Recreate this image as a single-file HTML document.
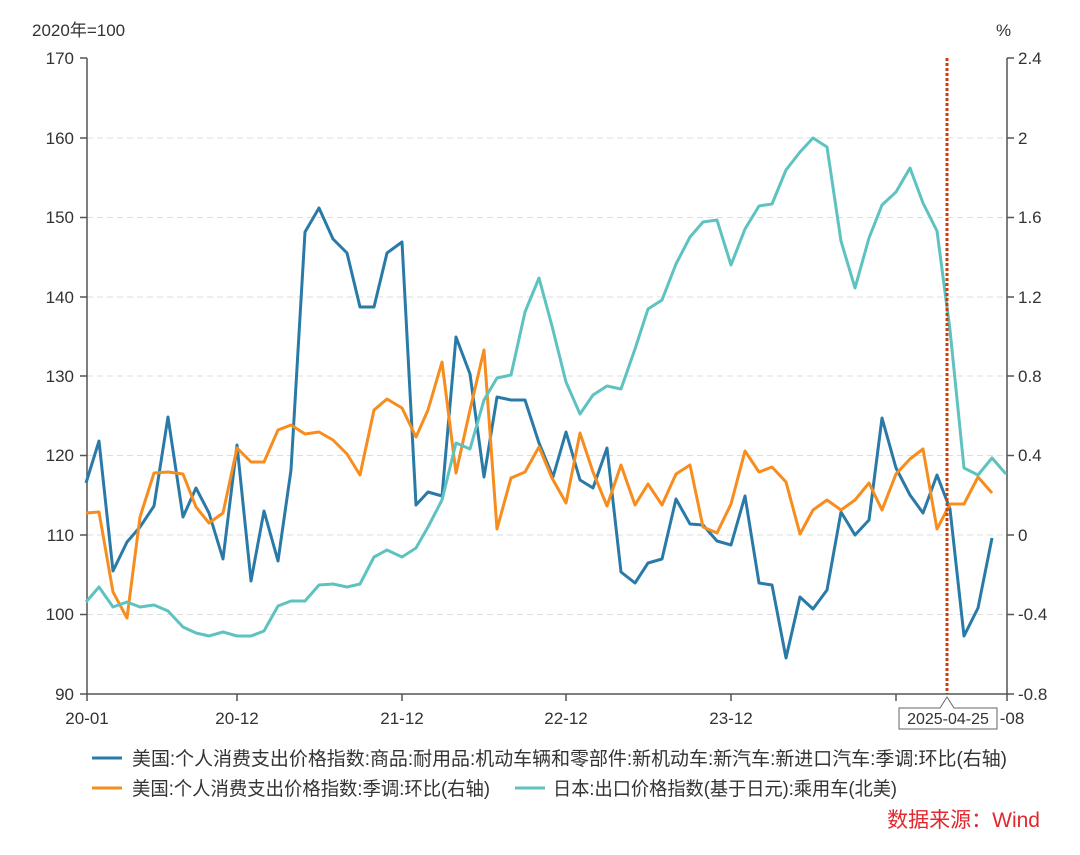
<!DOCTYPE html>
<html><head><meta charset="utf-8"><style>
body{margin:0;background:#fff;}
svg text{font-family:"Liberation Sans","Noto Sans CJK SC",sans-serif;}
</style></head><body>
<svg width="1080" height="850" xmlns="http://www.w3.org/2000/svg">
<rect width="1080" height="850" fill="#fff"/>
<g stroke="#ddd" stroke-dasharray="6,4" stroke-width="1">
<line x1="87" x2="1007" y1="138" y2="138"/><line x1="87" x2="1007" y1="217.5" y2="217.5"/>
<line x1="87" x2="1007" y1="297" y2="297"/><line x1="87" x2="1007" y1="376" y2="376"/>
<line x1="87" x2="1007" y1="455.5" y2="455.5"/><line x1="87" x2="1007" y1="535" y2="535"/>
<line x1="87" x2="1007" y1="614.5" y2="614.5"/>
</g>
<g stroke="#555" stroke-width="1.5" fill="none">
<line x1="87" y1="58" x2="87" y2="695"/><line x1="1007" y1="58" x2="1007" y2="695"/>
<line x1="87" y1="694" x2="1007" y2="694"/>
<path d="M80 58h7M80 138h7M80 217.5h7M80 297h7M80 376h7M80 455.5h7M80 535h7M80 614.5h7M80 694h7"/>
<path d="M1007 58h7M1007 138h7M1007 217.5h7M1007 297h7M1007 376h7M1007 455.5h7M1007 535h7M1007 614.5h7M1007 694h7"/>
<path d="M87 694v7M237 694v7M402 694v7M566 694v7M731 694v7M896 694v7M1007 694v7"/>
</g>
<g font-size="17" fill="#333" text-anchor="end">
<text x="74" y="64">170</text><text x="74" y="144">160</text><text x="74" y="223">150</text><text x="74" y="303">140</text><text x="74" y="382">130</text><text x="74" y="461">120</text><text x="74" y="541">110</text><text x="74" y="620">100</text><text x="74" y="700">90</text>
</g>
<g font-size="17" fill="#333">
<text x="1018" y="64">2.4</text><text x="1018" y="144">2</text><text x="1018" y="223">1.6</text><text x="1018" y="303">1.2</text><text x="1018" y="382">0.8</text><text x="1018" y="461">0.4</text><text x="1018" y="541">0</text><text x="1018" y="620">-0.4</text><text x="1018" y="700">-0.8</text>
<text x="32" y="36">2020年=100</text><text x="996" y="36">%</text>
</g>
<g font-size="17" fill="#333" text-anchor="middle">
<text x="87" y="724">20-01</text><text x="237" y="724">20-12</text><text x="402" y="724">21-12</text><text x="566" y="724">22-12</text><text x="731" y="724">23-12</text><text x="912" y="724">24-</text><text x="1012" y="724">-08</text>
</g>
<polyline fill="none" stroke="#2A7AA8" stroke-width="3" stroke-linejoin="round" points="86,483 99,441 113,571 127,542 140,527 154,506 168,417 183,517 196,488 209,513 223,559 237,445 251,581 264,511 278,561 291,470 305,232 319,208 333,239 347,253 360,307 374,307 387,253 402,242 416,505 428,492 442,496 456,337 470,374 484,477 497,397 511,400 525,400 539,443 553,477 566,432 580,480 593,488 607,448 621,572 635,583 648,563 662,559 676,499 690,524 703,525 717,541 731,545 745,496 759,583 772,585 786,658 800,597 813,609 827,590 841,512 855,535 869,520 882,418 896,468 910,495 923,513 937,475 950,509 964,636 978,608 992,538"/>
<polyline fill="none" stroke="#F78D1E" stroke-width="3" stroke-linejoin="round" points="86,513 99,512 113,592 127,618 140,517 154,473 168,472 183,474 196,507 209,523 223,513 237,448 251,462 264,462 278,430 291,425 305,434 319,432 333,440 347,454 360,475 374,410 387,399 402,408 416,437 428,410 442,362 456,473 470,410 484,350 497,529 511,478 525,472 539,447 552,478 566,503 580,433 593,472 607,506 621,465 635,505 648,484 662,505 676,474 690,465 703,527 717,533 731,504 745,451 759,472 772,467 786,482 800,534 813,510 827,500 841,510 855,500 869,483 882,510 896,474 910,459 923,449 937,529 950,504 964,504 978,477 992,493"/>
<polyline fill="none" stroke="#5EC3C0" stroke-width="3" stroke-linejoin="round" points="86,602 99,587 113,607 127,602 140,607 154,605 168,611 183,627 196,633 209,636 223,632 237,636 251,636 264,631 278,606 291,601 305,601 319,585 333,584 347,587 360,584 374,557 387,550 402,557 416,548 428,527 442,500 456,443 470,449 484,400 497,378 511,375 525,312 539,278 552,326 566,382 580,414 593,395 607,386 621,389 635,349 648,309 662,300 676,264 690,237 703,222 717,220 731,265 745,229 759,206 772,204 786,170 800,152 813,138 827,147 841,241 855,288 869,238 882,205 896,192 910,168 923,203 937,231 950,330 964,468 978,475 992,458 1006,474"/>
<line x1="947" y1="58" x2="947" y2="694" stroke="#C8400A" stroke-width="3" stroke-dasharray="3,2"/>
<path d="M899 708h41l7-11l7 11h43v21h-98z" fill="#fff" stroke="#666" stroke-width="1"/>
<text x="948" y="724" font-size="16" fill="#333" text-anchor="middle">2025-04-25</text>
<g stroke-width="3">
<line x1="92" x2="122" y1="758" y2="758" stroke="#2A7AA8"/>
<line x1="92" x2="122" y1="788" y2="788" stroke="#F78D1E"/>
<line x1="515" x2="545" y1="788" y2="788" stroke="#5EC3C0"/>
</g>
<g font-size="19" fill="#333">
<text x="132" y="765" textLength="875" lengthAdjust="spacingAndGlyphs">美国:个人消费支出价格指数:商品:耐用品:机动车辆和零部件:新机动车:新汽车:新进口汽车:季调:环比(右轴)</text>
<text x="132" y="795" textLength="358" lengthAdjust="spacingAndGlyphs">美国:个人消费支出价格指数:季调:环比(右轴)</text>
<text x="553" y="795" textLength="344" lengthAdjust="spacingAndGlyphs">日本:出口价格指数(基于日元):乘用车(北美)</text>
</g>
<text x="1040" y="827" font-size="21" fill="#E0282E" text-anchor="end">数据来源：Wind</text>
</svg>
</body></html>
